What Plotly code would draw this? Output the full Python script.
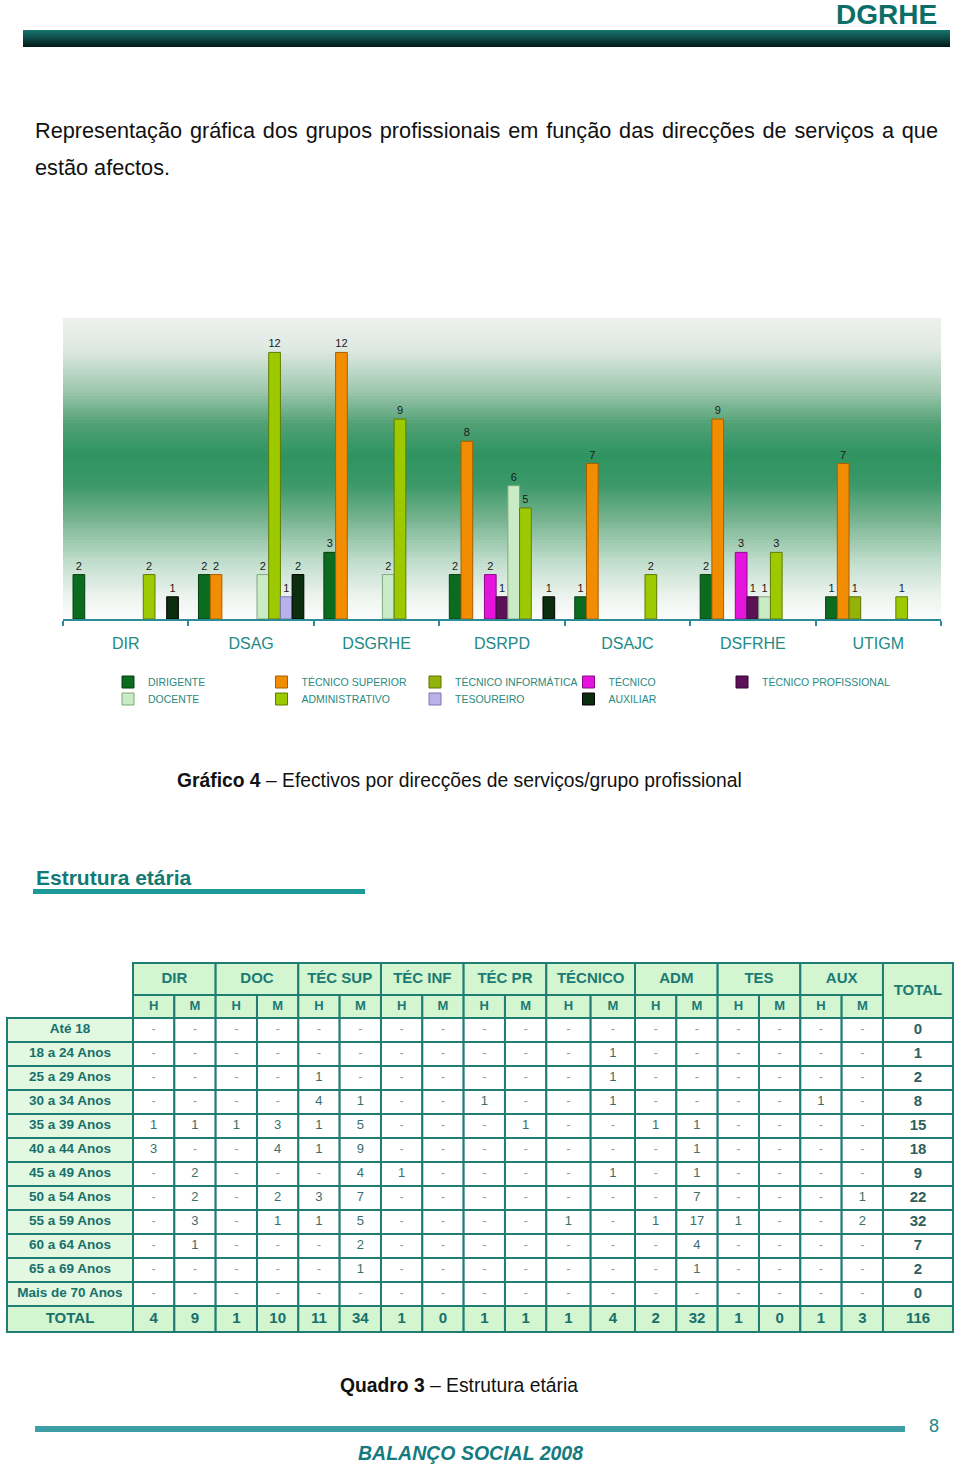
import plotly.graph_objects as go

W, H = 960, 1466
FONT = "Liberation Sans, Arial, sans-serif"

# ---------------- chart data ----------------
CATEGORIES = ["DIR", "DSAG", "DSGRHE", "DSRPD", "DSAJC", "DSFRHE", "UTIGM"]
DIRIGENTE = [2, 2, 3, 2, 1, 2, 1]
TECNICO_SUPERIOR = [0, 2, 12, 8, 7, 9, 7]
TECNICO_INFORMATICA = [0, 0, 0, 0, 0, 0, 1]
TECNICO = [0, 0, 0, 2, 0, 3, 0]
TECNICO_PROFISSIONAL = [0, 0, 0, 1, 0, 1, 0]
DOCENTE = [0, 2, 2, 6, 0, 1, 0]
ADMINISTRATIVO = [2, 12, 9, 5, 2, 3, 1]
TESOUREIRO = [0, 1, 0, 0, 0, 0, 0]
AUXILIAR = [1, 2, 0, 1, 0, 0, 0]

SERIES_NAMES = ["DIRIGENTE", "TÉCNICO SUPERIOR", "TÉCNICO INFORMÁTICA", "TÉCNICO",
                "TÉCNICO PROFISSIONAL", "DOCENTE", "ADMINISTRATIVO", "TESOUREIRO", "AUXILIAR"]
SERIES_VALUES = [DIRIGENTE, TECNICO_SUPERIOR, TECNICO_INFORMATICA, TECNICO,
                 TECNICO_PROFISSIONAL, DOCENTE, ADMINISTRATIVO, TESOUREIRO, AUXILIAR]

# ---------------- table data ----------------
GROUPS = ["DIR", "DOC", "TÉC SUP", "TÉC INF", "TÉC PR", "TÉCNICO", "ADM", "TES", "AUX"]
SUBS = ["H", "M"]
AGE_LABELS = ["Até 18", "18 a 24 Anos", "25 a 29 Anos", "30 a 34 Anos", "35 a 39 Anos",
              "40 a 44 Anos", "45 a 49 Anos", "50 a 54 Anos", "55 a 59 Anos",
              "60 a 64 Anos", "65 a 69 Anos", "Mais de 70 Anos"]
N = None
AGE_VALUES = [
    [N, N, N, N, N, N, N, N, N, N, N, N, N, N, N, N, N, N],
    [N, N, N, N, N, N, N, N, N, N, N, 1, N, N, N, N, N, N],
    [N, N, N, N, 1, N, N, N, N, N, N, 1, N, N, N, N, N, N],
    [N, N, N, N, 4, 1, N, N, 1, N, N, 1, N, N, N, N, 1, N],
    [1, 1, 1, 3, 1, 5, N, N, N, 1, N, N, 1, 1, N, N, N, N],
    [3, N, N, 4, 1, 9, N, N, N, N, N, N, N, 1, N, N, N, N],
    [N, 2, N, N, N, 4, 1, N, N, N, N, 1, N, 1, N, N, N, N],
    [N, 2, N, 2, 3, 7, N, N, N, N, N, N, N, 7, N, N, N, 1],
    [N, 3, N, 1, 1, 5, N, N, N, N, 1, N, 1, 17, 1, N, N, 2],
    [N, 1, N, N, N, 2, N, N, N, N, N, N, N, 4, N, N, N, N],
    [N, N, N, N, N, 1, N, N, N, N, N, N, N, 1, N, N, N, N],
    [N, N, N, N, N, N, N, N, N, N, N, N, N, N, N, N, N, N],
]

# ---------------- styles ----------------
SERIES_COLORS = ["#0b6b1f", "#f28c00", "#93b20a", "#e414dc", "#5c1057",
                 "#c9ecc6", "#9dc900", "#b8b1ea", "#0b2e0f"]
SERIES_LINES = ["#04400f", "#a85f00", "#5f7300", "#8c0a88", "#300630",
                "#7fa87c", "#5f7c00", "#7c76b0", "#000000"]
TEAL = "#1f7d74"
TXT_TEAL = "#1b7a74"


def PX(x):
    return x / W


def PY(y):
    return 1 - y / H


fig = go.Figure()

# ---------------- bar chart ----------------
for i, (name, vals) in enumerate(zip(SERIES_NAMES, SERIES_VALUES)):
    fig.add_trace(go.Bar(
        x=CATEGORIES,
        y=[v if v else None for v in vals],
        text=[str(v) if v else "" for v in vals],
        name=name,
        marker=dict(color=SERIES_COLORS[i], line=dict(color=SERIES_LINES[i], width=1)),
        textposition="outside",
        constraintext="none",
        cliponaxis=False,
        textfont=dict(size=11, color="#1a1a1a", family=FONT),
        legend="legend" if i < 5 else "legend2",
        legendwidth=150 if i == 4 else None,
        hoverinfo="skip",
    ))

CH_L, CH_R, CH_T, CH_B = 63, 941, 318, 619

# gradient background of plot area
stops = [(318, (238, 241, 238)), (350, (222, 233, 226)), (390, (160, 200, 175)),
         (425, (80, 160, 116)), (455, (46, 148, 97)), (485, (60, 153, 105)),
         (520, (120, 180, 145)), (560, (190, 220, 202)), (595, (235, 243, 238)),
         (619, (252, 253, 252))]


def grad_color(y):
    for (y0, c0), (y1, c1) in zip(stops[:-1], stops[1:]):
        if y0 <= y <= y1:
            t = (y - y0) / (y1 - y0)
            c = [round(a + (b - a) * t) for a, b in zip(c0, c1)]
            return "rgb(%d,%d,%d)" % tuple(c)
    return "rgb(255,255,255)"


shapes = []
step = 3
yy = CH_T
while yy < CH_B:
    y2 = min(yy + step, CH_B)
    shapes.append(dict(type="rect", xref="paper", yref="paper", layer="below",
                       x0=PX(CH_L), x1=PX(CH_R), y0=PY(y2), y1=PY(yy),
                       line=dict(width=0), fillcolor=grad_color((yy + y2) / 2)))
    yy = y2

# header bar
for k in range(17):
    t = k / 16
    c0, c1 = (24, 116, 110), (2, 28, 26)
    c = tuple(round(a + (b - a) * t) for a, b in zip(c0, c1))
    shapes.append(dict(type="rect", xref="paper", yref="paper", layer="below",
                       x0=PX(23), x1=PX(950), y0=PY(31 + k), y1=PY(30 + k),
                       line=dict(width=0), fillcolor="rgb(%d,%d,%d)" % c))

# "Estrutura etária" underline
shapes.append(dict(type="rect", xref="paper", yref="paper", layer="below",
                   x0=PX(33), x1=PX(365), y0=PY(894), y1=PY(889),
                   line=dict(width=0), fillcolor="#1b9a98"))
# footer bar
shapes.append(dict(type="rect", xref="paper", yref="paper", layer="below",
                   x0=PX(35), x1=PX(905), y0=PY(1432), y1=PY(1426),
                   line=dict(width=0), fillcolor="#3d9ea5"))

# ---------------- table ----------------
TABLE_LEFT = 7
LABEL_W = 126
DATA_W = [41.33] * 10 + [44.35, 44.35] + [41.33] * 6
TOTAL_W = 70
HEADER_TOP = 963
HEADER_ROW1_H = 32
HEADER_ROW2_H = 23
BODY_ROW_H = 24
TOTAL_ROW_H = 26
HEAD_FILL = "#d3f5cf"
LABEL_FILL = "#e3f8e0"

col_edges = [TABLE_LEFT, TABLE_LEFT + LABEL_W]
for w in DATA_W:
    col_edges.append(col_edges[-1] + w)
col_edges.append(col_edges[-1] + TOTAL_W)
total_x0, total_x1 = col_edges[-2], col_edges[-1]

h_mid = HEADER_TOP + HEADER_ROW1_H
body_top = h_mid + HEADER_ROW2_H
n_rows = len(AGE_LABELS)
row_edges = [body_top + BODY_ROW_H * r for r in range(n_rows + 1)]
row_edges.append(row_edges[-1] + TOTAL_ROW_H)


def cell(x0, x1, y0, y1, fill):
    shapes.append(dict(type="rect", xref="paper", yref="paper", layer="below",
                       x0=PX(x0), x1=PX(x1), y0=PY(y1), y1=PY(y0),
                       line=dict(color=TEAL, width=2), fillcolor=fill))


for g in range(len(GROUPS)):
    cell(col_edges[1 + 2 * g], col_edges[3 + 2 * g], HEADER_TOP, h_mid, HEAD_FILL)
    for s in range(2):
        cell(col_edges[1 + 2 * g + s], col_edges[2 + 2 * g + s], h_mid, body_top, HEAD_FILL)
cell(total_x0, total_x1, HEADER_TOP, body_top, HEAD_FILL)
for r in range(n_rows):
    cell(col_edges[0], col_edges[1], row_edges[r], row_edges[r + 1], LABEL_FILL)
    for c in range(len(DATA_W)):
        cell(col_edges[1 + c], col_edges[2 + c], row_edges[r], row_edges[r + 1], "white")
    cell(total_x0, total_x1, row_edges[r], row_edges[r + 1], "white")
for c in range(len(col_edges) - 1):
    cell(col_edges[c], col_edges[c + 1], row_edges[-2], row_edges[-1], HEAD_FILL)


def cx(c):
    return (col_edges[c] + col_edges[c + 1]) / 2


def ry(r):
    return (row_edges[r] + row_edges[r + 1]) / 2


def text_trace(xs, ys, texts, size, color):
    fig.add_trace(go.Scatter(x=xs, y=ys, text=texts, mode="text", xaxis="x2", yaxis="y2",
                             textposition="middle center", showlegend=False, hoverinfo="skip",
                             cliponaxis=False,
                             textfont=dict(size=size, color=color, family=FONT)))


# group headers
text_trace([(col_edges[1 + 2 * g] + col_edges[3 + 2 * g]) / 2 for g in range(len(GROUPS))] +
           [(total_x0 + total_x1) / 2],
           [(HEADER_TOP + h_mid) / 2] * len(GROUPS) + [(HEADER_TOP + body_top) / 2 + 1],
           ["<b>%s</b>" % g for g in GROUPS] + ["<b>TOTAL</b>"], 15, TXT_TEAL)
# H / M
text_trace([cx(1 + c) for c in range(len(DATA_W))], [(h_mid + body_top) / 2] * len(DATA_W),
           ["<b>%s</b>" % SUBS[c % 2] for c in range(len(DATA_W))], 13, TXT_TEAL)
# row labels
text_trace([cx(0)] * n_rows, [ry(r) for r in range(n_rows)],
           ["<b>%s</b>" % a for a in AGE_LABELS], 13.5, "#17706c")
# body values
bx, by, bt, dx, dy = [], [], [], [], []
for r, row in enumerate(AGE_VALUES):
    for c, v in enumerate(row):
        if v is None:
            dx.append(cx(1 + c)); dy.append(ry(r))
        else:
            bx.append(cx(1 + c)); by.append(ry(r)); bt.append(str(v))
text_trace(bx, by, bt, 13, "#3d6e6c")
text_trace(dx, dy, ["-"] * len(dx), 13, "#8aa3a1")
# row totals
row_totals = [sum(v for v in row if v) for row in AGE_VALUES]
text_trace([(total_x0 + total_x1) / 2] * n_rows, [ry(r) for r in range(n_rows)],
           ["<b>%d</b>" % t for t in row_totals], 15, "#2f5f5d")
# total row
col_totals = [sum(row[c] or 0 for row in AGE_VALUES) for c in range(len(DATA_W))]
text_trace([cx(c) for c in range(len(col_edges) - 1)], [ry(n_rows)] * (len(col_edges) - 1),
           ["<b>TOTAL</b>"] + ["<b>%d</b>" % t for t in col_totals] + ["<b>%d</b>" % sum(row_totals)],
           15, "#17706c")

# ---------------- page text ----------------
ann = []


def add_text(x, y, text, size, color="#111111", xanchor="left", yanchor="middle"):
    ann.append(dict(x=PX(x), y=PY(y), xref="paper", yref="paper", text=text, showarrow=False,
                    xanchor=xanchor, yanchor=yanchor,
                    font=dict(size=size, color=color, family=FONT)))


PARA_LINE1 = "Representação gráfica dos grupos profissionais em função das direcções de serviços a que"
PARA_LINE2 = "estão afectos."

add_text(939, 14, "<b>DGRHE</b>", 28, "#0c6e66", xanchor="right")
add_text(33, 131, PARA_LINE1.replace(" ", " \u200a"), 21.7)
add_text(33, 168, PARA_LINE2, 21.7)
add_text(459, 780, "<b>Gráfico 4</b> – Efectivos por direcções de serviços/grupo profissional", 19.3, xanchor="center")
add_text(34, 877, "<b>Estrutura etária</b>", 21, "#117a74")
add_text(459, 1385, "<b>Quadro 3</b> – Estrutura etária", 19.3, xanchor="center")
add_text(934, 1426, "8", 18, "#1b8a8a", xanchor="center")
add_text(470, 1453, "<b><i>BALANÇO SOCIAL 2008</i></b>", 19.5, "#157a80", xanchor="center")

legend_common = dict(orientation="h", xanchor="left", yanchor="middle",
                     entrywidth=108.5, entrywidthmode="pixels", itemwidth=30,
                     font=dict(size=10.5, color="#2a8a80", family=FONT),
                     bgcolor="rgba(0,0,0,0)", borderwidth=0, tracegroupgap=0)

fig.update_layout(
    width=W, height=H,
    margin=dict(l=0, r=0, t=0, b=0),
    paper_bgcolor="white", plot_bgcolor="rgba(0,0,0,0)",
    barmode="group", bargap=0.16, bargroupgap=0,
    showlegend=True,
    legend=dict(x=PX(108), y=PY(682), **legend_common),
    legend2=dict(x=PX(108), y=PY(699), **legend_common),
    xaxis=dict(domain=[PX(CH_L), PX(CH_R)], anchor="y", type="category",
               range=[-0.5, len(CATEGORIES) - 0.5],
               showline=True, linecolor="#2b8c98", linewidth=2,
               ticks="outside", tickson="boundaries", ticklen=5, tickwidth=2, tickcolor="#2b8c98",
               showgrid=False, zeroline=False, ticklabelstandoff=9,
               tickfont=dict(size=16, color="#228a86", family=FONT), fixedrange=True),
    yaxis=dict(domain=[PY(CH_B), PY(CH_T)], anchor="x", range=[0, 13.55], visible=False,
               fixedrange=True),
    xaxis2=dict(domain=[0, 1], anchor="y2", range=[0, W], visible=False, fixedrange=True),
    yaxis2=dict(domain=[0, 1], anchor="x2", range=[H, 0], visible=False, fixedrange=True),
    shapes=shapes,
    annotations=ann,
)

fig.write_html("out.html")
